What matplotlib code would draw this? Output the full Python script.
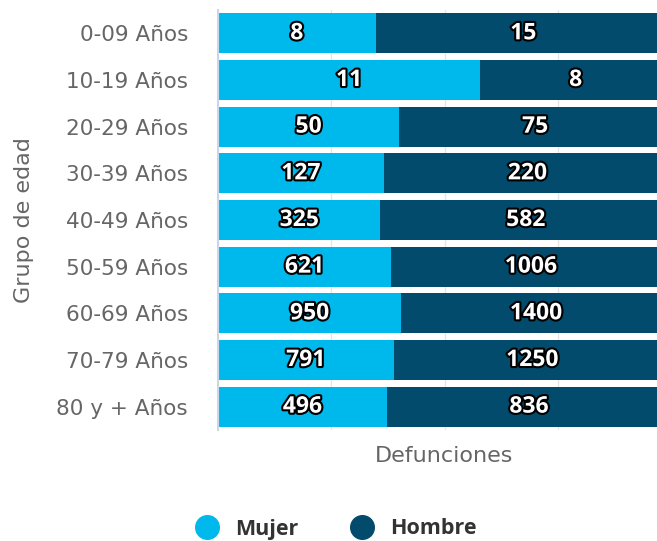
import numpy as np
import matplotlib.pyplot as plt
import matplotlib.patheffects as pe
from matplotlib.lines import Line2D

plt.rcParams['font.family'] = ['DejaVu Sans']

grupos = ['0-09 Años', '10-19 Años', '20-29 Años', '30-39 Años', '40-49 Años',
          '50-59 Años', '60-69 Años', '70-79 Años', '80 y + Años']
mujer = np.array([8, 11, 50, 127, 325, 621, 950, 791, 496])
hombre = np.array([15, 8, 75, 220, 582, 1006, 1400, 1250, 836])

c_mujer = '#00b9ec'
c_hombre = '#034b6c'

total = mujer + hombre
p_mujer = mujer / total * 100
p_hombre = hombre / total * 100

fig = plt.figure(figsize=(6.57, 5.41), dpi=100)
# the plot area runs past the right edge of the picture, as in the original
ax = fig.add_axes([218 / 657, 1 - 430 / 541, 453 / 657, 420 / 541])

y = np.arange(len(grupos))
h = 0.86
ax.barh(y, p_mujer, height=h, color=c_mujer, zorder=2)
ax.barh(y, p_hombre, left=p_mujer, height=h, color=c_hombre, zorder=2)

stroke = [pe.withStroke(linewidth=3, foreground='black')]
lbl = dict(ha='center', va='center', color='white', fontsize=16.5, fontweight='bold',
           family=['Open Sans', 'DejaVu Sans'], path_effects=stroke, zorder=3)
for i in range(len(grupos)):
    ax.text(p_mujer[i] / 2, y[i], str(mujer[i]), **lbl)
    ax.text(p_mujer[i] + p_hombre[i] / 2, y[i], str(hombre[i]), **lbl)

ax.set_xlim(0, 100)
ax.set_ylim(len(grupos) - 0.5, -0.5)
ax.set_xticks([0, 25, 50, 75, 100])
ax.set_xticklabels([])
ax.tick_params(axis='x', length=0)
ax.tick_params(axis='y', length=0, pad=21.6, labelsize=15.5, labelcolor='#666666')
ax.set_yticks(y)
ax.set_yticklabels(grupos)
ax.grid(axis='x', color='#e6e6e6', linewidth=1, zorder=0)
for s in ['top', 'right', 'bottom']:
    ax.spines[s].set_visible(False)
ax.spines['left'].set_color('#ccd6eb')
ax.spines['left'].set_linewidth(1.5)

ax.set_xlabel('Defunciones', fontsize=16, color='#666666', labelpad=8)
ax.set_ylabel('Grupo de edad', fontsize=16, color='#666666')
ax.yaxis.set_label_coords((34 - 218) / 453, 0.5)

handles = [Line2D([], [], marker='o', linestyle='', markersize=17, color=c_mujer),
           Line2D([], [], marker='o', linestyle='', markersize=17, color=c_hombre)]
fig.legend(handles=handles, labels=['Mujer', 'Hombre'], loc='center',
           bbox_to_anchor=(336 / 657, 1 - 529 / 541), ncol=2, frameon=False,
           handlelength=1.1, handletextpad=0.75, columnspacing=2.4,
           prop={'size': 15.5, 'weight': 'bold', 'family': ['Open Sans', 'DejaVu Sans']},
           labelcolor='#333333')

fig.savefig('out.png', dpi=100)
